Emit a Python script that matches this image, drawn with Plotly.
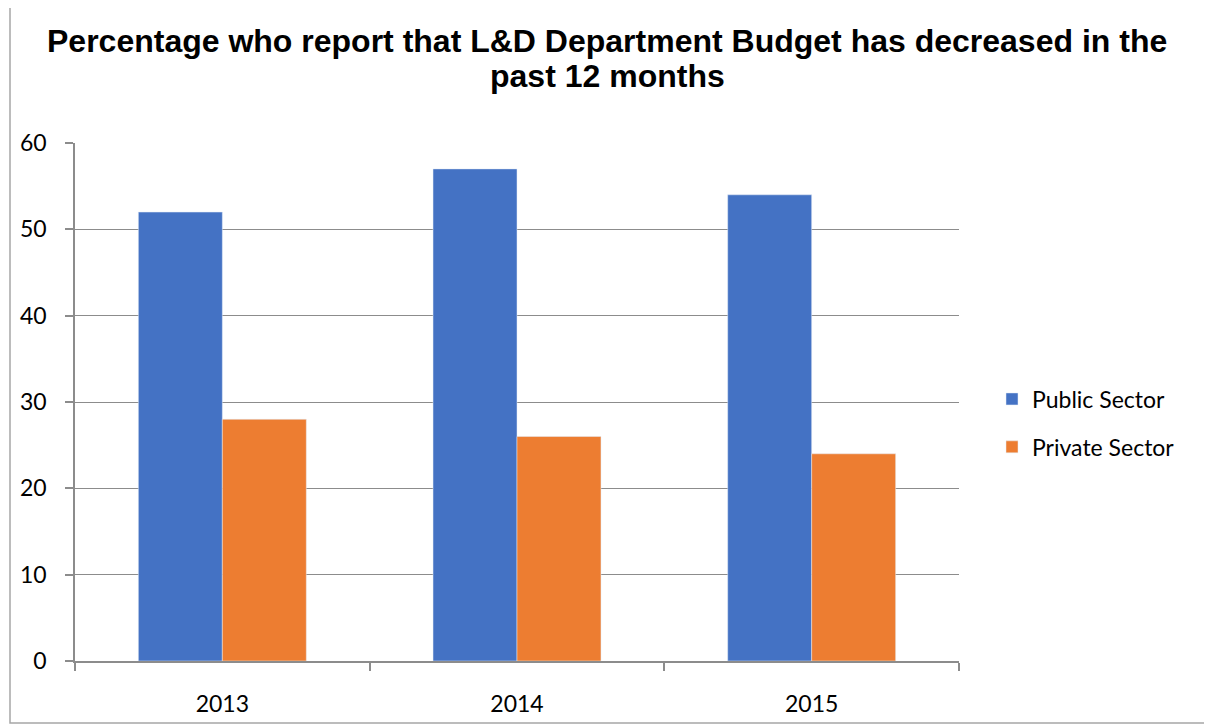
import plotly.graph_objects as go

years = ["2013", "2014", "2015"]
public_sector = [52, 57, 54]
private_sector = [28, 26, 24]
y_ticks = [0, 10, 20, 30, 40, 50, 60]
title_lines = [
    "Percentage who report that L&D Department Budget has decreased in the",
    "past 12 months",
]

# page has an ~8px body margin; work in page pixels and shift
OFF = 8
W, H = 1212 - OFF, 725 - OFF
PL, PR, PT, PB = 75, 959, 143, 661  # plot area in page pixels
L, T = PL - OFF, PT - OFF
R, B = W - (PR - OFF), H - (PB - OFF)
pw, ph = PR - PL, PB - PT

def px_x(x):
    return (x - PL) / pw

def px_y(y):
    return (PB - y) / ph

fig = go.Figure()
fig.add_trace(go.Bar(x=years, y=public_sector, name="Public Sector",
                     marker_color="#4472C4", legendgroup="a"))
fig.add_trace(go.Bar(x=years, y=private_sector, name="Private Sector",
                     marker_color="#ED7D31", legendgroup="b"))

grid = "#8c8c8c"
tickfont = dict(family="Lato, Open Sans, sans-serif", size=23, color="#000000")
title_font = dict(family="Liberation Sans, Arial, sans-serif", size=32, color="#000000")

annotations = []
for line, yc in zip(title_lines, [41, 76]):
    annotations.append(dict(
        text="<b>" + line + "</b>", xref="paper", yref="paper",
        x=px_x(607), y=px_y(yc), xanchor="center", yanchor="middle",
        showarrow=False, font=title_font,
    ))

fig.update_layout(
    width=W, height=H,
    margin=dict(l=L, r=R, t=T, b=B, autoexpand=False),
    paper_bgcolor="white", plot_bgcolor="white",
    barmode="group", bargap=0.43, bargroupgap=0,
    annotations=annotations,
    legend=dict(
        x=px_x(992), xanchor="left", y=px_y(423), yanchor="middle",
        font=dict(family="Lato, Open Sans, sans-serif", size=23, color="#000000"),
        itemwidth=30, traceorder="grouped", tracegroupgap=15, bgcolor="rgba(0,0,0,0)",
    ),
    xaxis=dict(
        type="category", showline=True, linecolor=grid, linewidth=1.5,
        ticks="outside", tickson="boundaries", ticklen=8, tickcolor=grid, tickwidth=1.5,
        tickfont=tickfont, ticklabelstandoff=22, showgrid=False,
    ),
    yaxis=dict(
        range=[0, 60], tickvals=y_ticks, showline=True, linecolor=grid, linewidth=1.5,
        ticks="outside", ticklen=8, tickcolor=grid, tickwidth=1.5,
        showgrid=True, gridcolor=grid, gridwidth=1, zeroline=False,
        tickfont=tickfont, ticklabelstandoff=14,
    ),
    shapes=[dict(
        type="rect", xref="paper", yref="paper",
        x0=px_x(10), x1=px_x(1225), y0=px_y(723), y1=px_y(7),
        line=dict(color="#a6a6a6", width=1.5), fillcolor="rgba(0,0,0,0)", layer="below",
    )],
)

fig.write_html("out.html")
